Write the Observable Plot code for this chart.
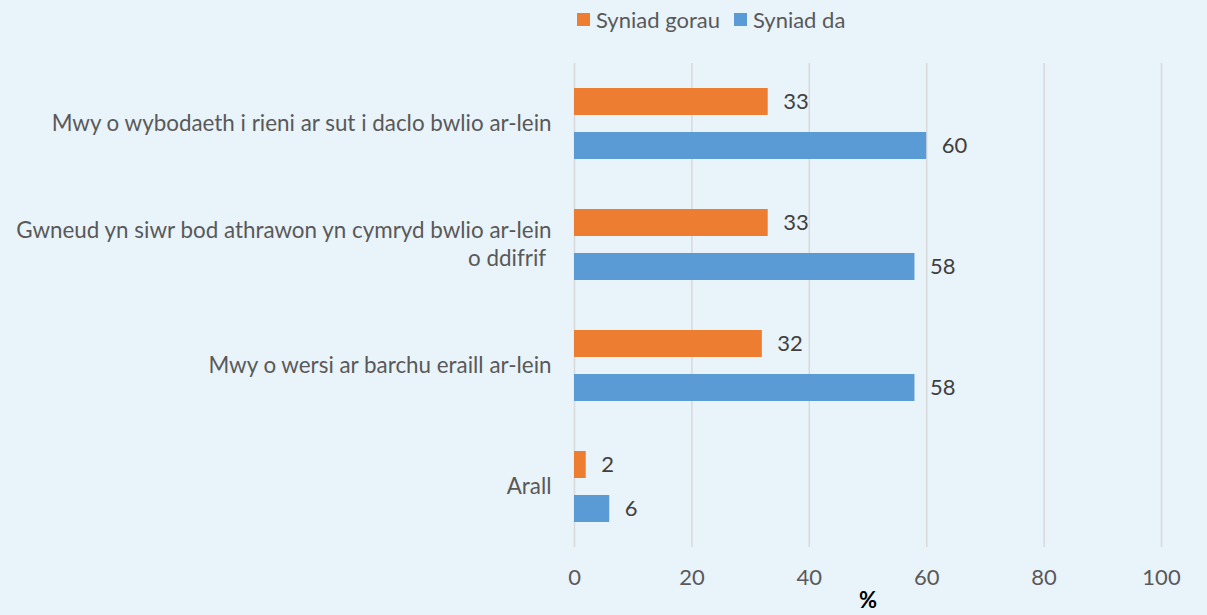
<!DOCTYPE html>
<html><head><meta charset="utf-8">
<script src="https://cdn.jsdelivr.net/npm/d3@7"></script>
<script src="https://cdn.jsdelivr.net/npm/@observablehq/plot@0.6"></script>
<style>
html,body{margin:0;padding:0;background:#e9f3fa;width:1207px;height:615px;overflow:hidden;}
#legend{height:44px;box-sizing:border-box;padding-left:577px;padding-top:6px;}
#legend div, #legend span{font-family:Lato,sans-serif !important;font-size:22px !important;color:#595959 !important;}
#legend > div{margin:0 !important;min-height:0 !important;}
#legend span > svg{margin-right:6px !important;}
#legend > div > span{margin-right:14px !important;}
#chart svg{display:block;}
g[aria-label="x-axis label"] text{font-weight:bold;fill:#000;font-size:22px !important;}
</style></head><body>
<div id="legend"></div><div id="chart"></div>
<script>
const categories = [
  "Mwy o wybodaeth i rieni ar sut i daclo bwlio ar-lein",
  "Gwneud yn siwr bod athrawon yn cymryd bwlio ar-lein\no ddifrif\u00a0",
  "Mwy o wersi ar barchu eraill ar-lein",
  "Arall"
];
const seriesNames = ["Syniad gorau", "Syniad da"];
const gorau = [33, 33, 32, 2];
const da = [60, 58, 58, 6];
const xTicks = [0, 20, 40, 60, 80, 100];
const colors = ["#ED7D31", "#5B9BD5"];

const data = categories.flatMap((c, i) => [
  {category: c, series: seriesNames[0], value: gorau[i]},
  {category: c, series: seriesNames[1], value: da[i]}
]);

document.getElementById("legend").appendChild(Plot.legend({
  color: {domain: seriesNames, range: colors},
  swatchSize: 13,
  className: "lg"
}));

const plot = Plot.plot({
  width: 1207, height: 571,
  marginLeft: 574, marginRight: 46, marginTop: 19, marginBottom: 68,
  style: {background: "transparent", fontFamily: "Lato, sans-serif", fontSize: "22px", color: "#595959", overflow: "visible"},
  x: {domain: [0, 100]},
  y: {domain: seriesNames, paddingInner: 0.386, paddingOuter: 0.565, axis: null},
  fy: {domain: categories, padding: 0},
  color: {domain: seriesNames, range: colors},
  marks: [
    Plot.gridX(xTicks, {stroke: "#d9d9d9", strokeOpacity: 1, strokeWidth: 1.5}),
    Plot.barX(data, {x: "value", y: "series", fy: "category", fill: "series"}),
    Plot.text(data, {x: "value", y: "series", fy: "category", text: d => String(d.value), textAnchor: "start", dx: 15, fill: "#404040", fontSize: 22}),
    Plot.axisX({ticks: xTicks, tickSize: 0, tickPadding: 22, label: "%", labelAnchor: "center", labelArrow: "none", labelOffset: 60, fill: "#595959", fontSize: 22}),
    Plot.axisFy({anchor: "left", tickSize: 0, tickPadding: 23, label: null, lineHeight: 1.27, dy: -2, fill: "#595959", fontSize: 22.4})
  ]
});
document.getElementById("chart").appendChild(plot);
</script>
</body></html>
